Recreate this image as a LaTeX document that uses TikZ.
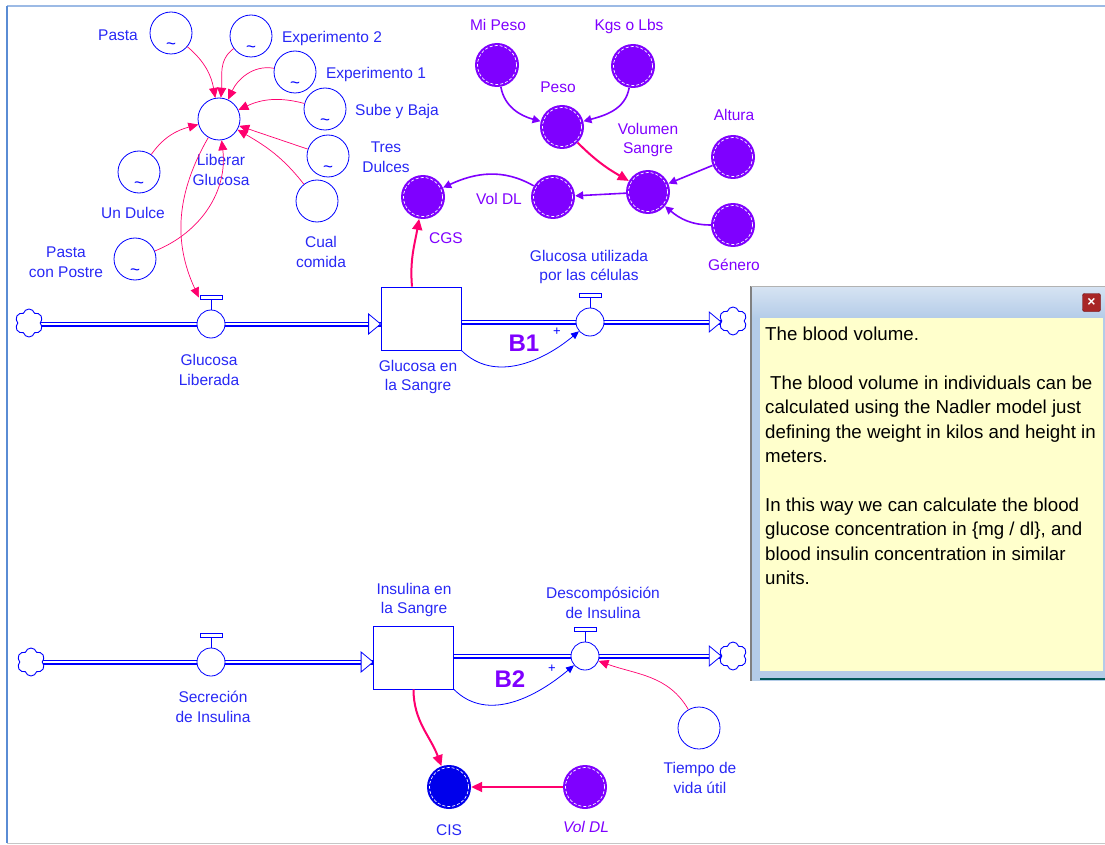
\documentclass[tikz,border=0pt]{standalone}
\usepackage{fontspec}
\setmainfont{Liberation Sans}
\usetikzlibrary{arrows.meta, shapes.symbols, calc}

\definecolor{sdblue}{RGB}{0,0,255}
\definecolor{stext}{RGB}{40,40,245}
\definecolor{spurp}{RGB}{127,0,255}
\definecolor{spink}{RGB}{255,0,110}
\definecolor{cisblue}{RGB}{0,0,235}
\definecolor{notey}{RGB}{255,255,204}
\definecolor{winblue}{RGB}{180,204,232}
\definecolor{frameblue}{RGB}{90,140,212}

\pgfdeclarelayer{bg}
\pgfsetlayers{bg,main}

\begin{document}
\begin{tikzpicture}[
  x=1pt, y=-1pt,
  conv/.style={circle, draw=sdblue, fill=white, line width=0.8pt, minimum size=42pt, inner sep=0pt},
  gconv/.style={conv, path picture={\node[text=sdblue, font=\fontsize{17}{17}\selectfont, inner sep=0pt]
      at ([yshift=8pt]path picture bounding box.south) {\textasciitilde};}},
  ghost/.style={circle, fill=spurp, draw=none, minimum size=44pt, inner sep=0pt,
      path picture={\draw[white, densely dashed, line width=0.7pt] (path picture bounding box.center) circle (19.5pt);}},
  valve/.style={circle, draw=sdblue, fill=white, line width=0.8pt, minimum size=28pt, inner sep=0pt},
  stock/.style={rectangle, draw=sdblue, fill=white, line width=0.8pt, minimum width=80pt, minimum height=63pt},
  cloudn/.style={cloud, cloud puffs=6, aspect=1, draw=sdblue, line width=0.9pt, minimum width=28pt, minimum height=28pt, inner sep=0pt},
  pipe/.style={draw=sdblue, line width=1.3pt, double=white, double distance=2.4pt},
  pipehead/.style={draw=sdblue, fill=white, line width=0.8pt, line join=miter},
  link/.style={draw=spink, line width=0.7pt, -{Triangle[length=10pt, width=9pt]}},
  thick link/.style={line width=2pt, -{Triangle[length=11pt, width=10pt]}},
  plink/.style={draw=spurp, line width=1.6pt, -{Triangle[length=8pt, width=8pt]}},
  loopc/.style={draw=sdblue, line width=0.8pt, -{Triangle[length=8pt, width=7pt]}},
  lbl/.style={text=stext, font=\fontsize{15.5}{19.5}\selectfont, align=center, inner sep=0pt},
  plbl/.style={lbl, text=spurp},
  loopname/.style={text=spurp, font=\fontsize{24}{24}\selectfont\bfseries, inner sep=0pt},
  plus/.style={text=sdblue, font=\fontsize{13}{13}\selectfont, inner sep=0pt},
  notetext/.style={text=black, font=\fontsize{18.7}{24.4}\selectfont, align=left, inner sep=0pt},
]
\useasboundingbox (0,0) rectangle (1105,845);

% marco de la ventana
\draw[frameblue!60, line width=2.2pt] (7,6) -- (1105,6);
\draw[frameblue, line width=2pt] (7,6) -- (7,843);
\draw[gray!45, line width=1.5pt] (7,843.5) -- (1105,843.5);

% convertidores que liberan glucosa
\node[gconv] (cPasta) at (171,33) {};
\node[gconv] (cExp2) at (251,36) {};
\node[gconv] (cExp1) at (295,72) {};
\node[gconv] (cSube) at (325,109) {};
\node[gconv] (cTres) at (328,156) {};
\node[conv] (cCual) at (317,201) {};
\node[conv] (cLib) at (219,119) {};
\node[gconv] (cUnD) at (139,172) {};
\node[gconv] (cPP) at (135,259) {};

\node[lbl] (lPasta) at (118,35) {Pasta};
\node[lbl] (lExp2) at (332,38) {Experimento 2};
\node[lbl] (lExp1) at (376,74) {Experimento 1};
\node[lbl] (lSube) at (397,111) {Sube y Baja};
\node[lbl] (lTres) at (386,157) {Tres\\Dulces};
\node[lbl] (lCual) at (321,252) {Cual\\comida};
\node[lbl] (lLib) at (221,170) {Liberar\\Glucosa};
\node[lbl] (lUnD) at (133,213) {Un Dulce};
\node[lbl] (lPP) at (66,262) {Pasta\\con Postre};

% volumen de sangre
\node[ghost] (pMiPeso) at (497,65) {};
\node[ghost] (pKgs) at (633,66) {};
\node[ghost] (pPeso) at (562,127) {};
\node[ghost] (pVolS) at (648,192) {};
\node[ghost] (pAltura) at (733,157) {};
\node[ghost] (pGenero) at (733,225) {};
\node[ghost] (pVolDL) at (553,197) {};
\node[ghost] (pCGS) at (423,197) {};

\node[plbl] (lMiPeso) at (498,25) {Mi Peso};
\node[plbl] (lKgs) at (629,26) {Kgs o Lbs};
\node[plbl] (lPeso) at (558,87) {Peso};
\node[plbl] (lVolS) at (648,140) {Volumen\\Sangre};
\node[plbl] (lAltura) at (734,115) {Altura};
\node[plbl] (lGenero) at (734,265) {Género};
\node[plbl] (lVolDL) at (499,199) {Vol DL};
\node[plbl] (lCGS) at (446,238) {CGS};

% flujo de glucosa
\node[cloudn] (nubeA) at (29,323) {};
\node[valve] (vlib) at (211,324) {};
\node[stock] (stockG) at (421,318.5) {};
\node[valve] (vuse) at (590,322) {};
\node[cloudn] (nubeB) at (733,321) {};

\node[lbl] (lGL) at (209,370) {Glucosa\\Liberada};
\node[lbl] (lGS) at (418,377) {Glucosa en\\la Sangre};
\node[lbl] (lGU) at (589,267) {Glucosa utilizada\\por las células};

% flujo de insulina
\node[cloudn] (nubeC) at (31,662) {};
\node[valve] (vins) at (211,662) {};
\node[stock] (stockI) at (413.5,657.5) {};
\node[valve] (vdes) at (585,656) {};
\node[cloudn] (nubeD) at (733,656) {};

\node[lbl] (lIS) at (414,600) {Insulina en\\la Sangre};
\node[lbl] (lSI) at (213,707) {Secreción\\de Insulina};
\node[lbl] (lDI) at (603,603) {Descompósición\\de Insulina};

\node[conv] (cTiempo) at (699,728) {};
\node[lbl] (lTV) at (700,778) {Tiempo de\\vida útil};
\node[ghost, fill=cisblue] (nCIS) at (449,787) {};
\node[lbl] (lCIS) at (449,830) {CIS};
\node[ghost] (pVolDL2) at (585,787) {};
\node[plbl, font=\fontsize{15.5}{19.5}\selectfont\itshape] (lVolDL2) at (586,827) {Vol DL};

% tuberias
\begin{pgfonlayer}{bg}
\draw[pipe] (nubeA.east |- vlib) -- (stockG.west |- vlib);
\draw[pipe] (stockG.east |- vuse) -- (nubeB.west |- vuse);
\draw[pipe] (nubeC.east |- vins) -- (stockI.west |- vins);
\draw[pipe] (stockI.east |- vdes) -- (nubeD.west |- vdes);
\end{pgfonlayer}
\draw[pipehead] (stockG.west |- vlib) -- ++(-12,-10) -- ++(0,20) -- cycle;
\draw[pipehead] (nubeB.west |- vuse) -- ++(-12,-10) -- ++(0,20) -- cycle;
\draw[pipehead] (stockI.west |- vins) -- ++(-12,-10) -- ++(0,20) -- cycle;
\draw[pipehead] (nubeD.west |- vdes) -- ++(-12,-10) -- ++(0,20) -- cycle;

% manijas de las valvulas
\foreach \v in {vlib, vuse, vins, vdes} {
  \draw[sdblue, line width=0.8pt] (\v.north) -- ++(0,-11);
  \draw[sdblue, line width=0.8pt, fill=white] ($(\v.north)+(-11,-14)$) rectangle ($(\v.north)+(11,-10.5)$);
}
\coordinate (hlib) at ($(vlib.north)+(-12,-12)$);

% enlaces hacia Liberar Glucosa
\draw[link] (cPasta) to[out=-40, in=100] (cLib);
\draw[link] (cExp2) to[out=216, in=85] (cLib);
\draw[link] (cExp1) to[out=170, in=65] (cLib);
\draw[link] (cSube) to[out=165, in=25] (cLib);
\draw[link] (cTres) -- (cLib);
\draw[link] (cCual) to[out=128, in=-30] (cLib);
\draw[link] (cUnD) to[out=55, in=195] (cLib);
\draw[link] (cPP) to[out=22, in=-83] (cLib);
\draw[link] (cLib) to[out=240, in=115] (hlib);

% enlaces del volumen de sangre
\draw[plink] (pMiPeso) to[out=-80, in=165] (pPeso);
\draw[plink] (pKgs) to[out=-100, in=15] (pPeso);
\draw[link, thick link] (pPeso) to[out=-45, in=150] (pVolS);
\draw[plink] (pAltura) -- (pVolS);
\draw[plink] (pGenero) to[out=180, in=-40] (pVolS);
\draw[plink] (pVolS) -- (pVolDL);
\draw[plink] (pVolDL) to[out=150, in=25] (pCGS);
\draw[link, thick link] ($(stockG.north)+(-9,0)$) to[out=95, in=-100] (pCGS);

% lazos de balance
\draw[loopc] (stockG.south east) to[out=-45, in=220] (vuse);
\node[loopname] (B1) at (524,343) {B1};
\node[plus] (pB1) at (557,332) {+};
\draw[loopc] (stockI.south east) to[out=-45, in=220] (vdes);
\node[loopname] (B2) at (510,679) {B2};
\node[plus] (pB2) at (552,669) {+};

% enlaces de insulina
\draw[link] (cTiempo) to[out=120, in=-20] (vdes);
\draw[link, thick link] (stockI.south) to[out=-90, in=110] (nCIS);
\draw[link, thick link] (pVolDL2) -- (nCIS);

% nota
\fill[winblue] (750,286) rectangle (1105,681);
\shade[top color=winblue!55!white, bottom color=winblue] (752,287) rectangle (1105,318);
\draw[gray, line width=1.5pt] (751,286) -- (751,681);
\draw[gray!60, line width=1pt] (751,286.5) -- (1105,286.5);
\fill[notey] (760,318) rectangle (1103,671);
\draw[teal!70!black, line width=1.3pt] (760,679) -- (1105,679);
\node[draw=red!40!black, fill=red!60!black!85, rounded corners=2pt, minimum width=18pt, minimum height=18pt,
      inner sep=0pt, text=white, font=\fontsize{14}{14}\selectfont\bfseries] (cerrar) at (1091.5,302.5) {×};
\node[notetext, anchor=north west] (nota) at (765,327) {The blood volume.\\[24.4pt]
\hspace*{5pt}The blood volume in individuals can be\\
calculated using the Nadler model just\\
defining the weight in kilos and height in\\
meters.\\[24.4pt]
In this way we can calculate the blood\\
glucose concentration in \{mg / dl\}, and\\
blood insulin concentration in similar\\
units.};

\end{tikzpicture}
\end{document}
